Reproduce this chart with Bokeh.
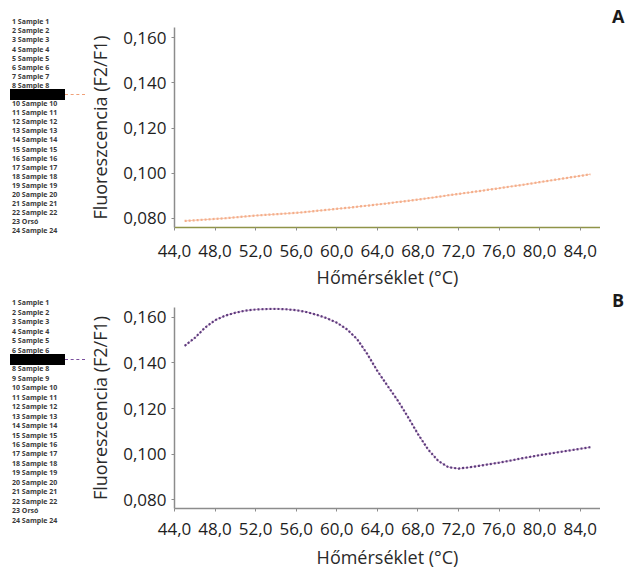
from bokeh.plotting import figure
from bokeh.layouts import column, row
from bokeh.models import Range1d, FixedTicker, CustomJSTickFormatter, Div
from bokeh.embed import file_html
from bokeh.resources import INLINE

# ---------------- data ----------------
temperature = [45, 46, 47, 48, 49, 50, 51, 52, 53, 54, 55, 56, 57, 58, 59, 60,
               61, 62, 63, 64, 65, 66, 67, 68, 69, 70, 71, 72, 73, 74, 75, 76,
               77, 78, 79, 80, 81, 82, 83, 84, 85]

fluor_a = [0.0788, 0.0791, 0.0794, 0.0797, 0.0800, 0.0804, 0.0808, 0.0812, 0.0815,
           0.0818, 0.0821, 0.0824, 0.0828, 0.0833, 0.0837, 0.0842, 0.0846, 0.0851,
           0.0856, 0.0861, 0.0866, 0.0872, 0.0877, 0.0883, 0.0889, 0.0895, 0.0902,
           0.0908, 0.0914, 0.0920, 0.0927, 0.0933, 0.0940, 0.0946, 0.0953, 0.0960,
           0.0967, 0.0974, 0.0981, 0.0988, 0.0995]

fluor_b = [0.1475, 0.1510, 0.1555, 0.1588, 0.1608, 0.1621, 0.1630, 0.1635, 0.1637,
           0.1638, 0.1636, 0.1632, 0.1624, 0.1612, 0.1597, 0.1577, 0.1548, 0.1505,
           0.1440, 0.1365, 0.1300, 0.1236, 0.1164, 0.1088, 0.1020, 0.0970, 0.0942,
           0.0936, 0.0941, 0.0948, 0.0955, 0.0962, 0.0970, 0.0979, 0.0987, 0.0995,
           0.1002, 0.1009, 0.1016, 0.1023, 0.1030]

sample_labels = ["1 Sample 1", "2 Sample 2", "3 Sample 3", "4 Sample 4", "5 Sample 5",
                 "6 Sample 6", "7 Sample 7", "8 Sample 8", "9 Sample 9", "10 Sample 10",
                 "11 Sample 11", "12 Sample 12", "13 Sample 13", "14 Sample 14",
                 "15 Sample 15", "16 Sample 16", "17 Sample 17", "18 Sample 18",
                 "19 Sample 19", "20 Sample 20", "21 Sample 21", "22 Sample 22",
                 "23 Orsó", "24 Sample 24"]

x_ticks = [44, 48, 52, 56, 60, 64, 68, 72, 76, 80, 84]
y_ticks = [0.08, 0.10, 0.12, 0.14, 0.16]

highlight_a = 9
highlight_b = 7

x_label = "Hőmérséklet (°C)"
y_label = "Fluoreszcencia (F2/F1)"

# ---------------- layout constants ----------------
LEG_W = 85
LET_W = 31
FONT = "Open Sans"


def legend_div(height, first_px, step_px, highlight, color):
    parts = []
    for i, lab in enumerate(sample_labels):
        r = i + 1
        cy = first_px + i * step_px
        if r == highlight:
            parts.append(
                f'<div style="position:absolute;left:10px;top:{cy - 5.5:.1f}px;'
                f'width:55px;height:11px;background:#000;"></div>')
            parts.append(
                f'<div style="position:absolute;left:65px;top:{cy - 0.75:.1f}px;'
                f'width:20px;height:0;border-top:1.5px dashed {color};"></div>')
        else:
            parts.append(
                f'<div style="position:absolute;left:12px;top:{cy - 4.5:.1f}px;'
                f'line-height:9px;white-space:nowrap;">{lab}</div>')
    html = (f'<div style="position:relative;width:{LEG_W}px;height:{height}px;'
            f"font-family:'{FONT}';font-size:7px;font-weight:bold;color:#3a3a3a;\">"
            + "".join(parts) + "</div>")
    return Div(text=html, width=LEG_W, height=height, margin=0)


def letter_div(height, letter, top_px):
    html = (f'<div style="position:relative;width:{LET_W}px;height:{height}px;">'
            f'<div style="position:absolute;left:12px;top:{top_px}px;'
            f"font-family:'{FONT}';font-size:18px;font-weight:bold;line-height:18px;"
            f'color:#1a1a1a;">{letter}</div></div>')
    return Div(text=html, width=LET_W, height=height, margin=0)


def main_fig(top_border, frame_h, bottom_border, y_start, y_end, ys,
             line_color, dot_color, xaxis_color, tick_standoff, title_standoff):
    p = figure(frame_width=426, frame_height=frame_h,
               x_range=Range1d(44, 86), y_range=Range1d(y_start, y_end),
               toolbar_location=None, output_backend="svg",
               min_border_left=86, min_border_right=0,
               min_border_top=top_border, min_border_bottom=bottom_border,
               outline_line_color=None)
    p.xgrid.visible = False
    p.ygrid.visible = False
    p.xaxis.ticker = FixedTicker(ticks=x_ticks)
    p.yaxis.ticker = FixedTicker(ticks=y_ticks)
    p.xaxis.formatter = CustomJSTickFormatter(code="return tick.toFixed(1).replace('.', ',');")
    p.yaxis.formatter = CustomJSTickFormatter(code="return tick.toFixed(3).replace('.', ',');")
    for ax in (p.xaxis, p.yaxis):
        ax.axis_line_color = "#8c8c8c"
        ax.axis_line_width = 1.5
        ax.major_tick_line_color = "#8c8c8c"
        ax.major_tick_in = 0
        ax.major_tick_out = 3
        ax.minor_tick_line_color = None
        ax.major_label_text_font = FONT
        ax.major_label_text_font_size = "17px"
        ax.major_label_text_color = "#1e1e1e"
        ax.axis_label_text_font = FONT
        ax.axis_label_text_font_size = "18px"
        ax.axis_label_text_font_style = "normal"
        ax.axis_label_text_color = "#2a2a2a"
    p.xaxis.axis_line_color = xaxis_color
    p.xaxis.major_label_standoff = tick_standoff
    p.xaxis.axis_label_standoff = title_standoff
    p.yaxis.major_label_standoff = 5
    p.yaxis.axis_label_standoff = 8
    p.xaxis.axis_label = x_label
    p.yaxis.axis_label = y_label

    p.line(temperature, ys, line_color=line_color, line_width=1)
    p.line(temperature, ys, line_color=dot_color, line_width=2.2, line_dash="2 2")
    return p


H_A = 291
H_B = 571 - H_A

pA = main_fig(27, 200, H_A - 27 - 200, 0.0759, 0.1646, fluor_a, "#f8c8b2", "#f4ae8a",
              "#8f9448", 14, 5)
pB = main_fig(16, 201, H_B - 16 - 201, 0.07606, 0.16438, fluor_b, "#cf9fcf", "#5b3d7c",
              "#8c8c8c", 11, 7)

legA = legend_div(H_A, 21.7, 9.09, highlight_a, "#f0a078")
legB = legend_div(H_B, 11.7, 9.45, highlight_b, "#7a4f9e")

letA = letter_div(H_A, "A", 7)
letB = letter_div(H_B, "B", 0)

layout = column(row(legA, pA, letA), row(legB, pB, letB))

open("out.html", "w").write(file_html(layout, INLINE))
